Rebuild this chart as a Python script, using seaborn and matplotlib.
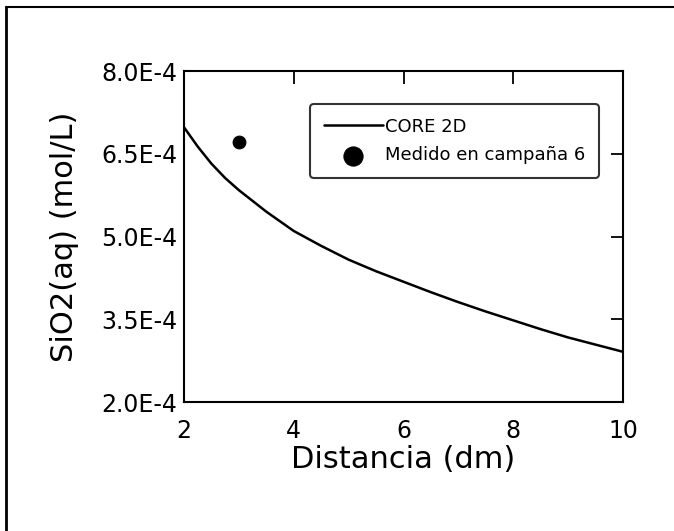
import numpy as np
import pandas as pd
import matplotlib
matplotlib.use("Agg")
import matplotlib.pyplot as plt
import seaborn as sns

# CORE 2D model curve
distance = [2.0, 2.25, 2.5, 2.75, 3.0, 3.5, 4.0, 4.5, 5.0, 5.5, 6.0,
            6.5, 7.0, 7.5, 8.0, 8.5, 9.0, 9.5, 10.0]
sio2_model = [6.98e-4, 6.63e-4, 6.32e-4, 6.06e-4, 5.84e-4, 5.45e-4,
              5.10e-4, 4.83e-4, 4.58e-4, 4.37e-4, 4.18e-4, 3.99e-4,
              3.81e-4, 3.64e-4, 3.48e-4, 3.32e-4, 3.17e-4, 3.04e-4,
              2.91e-4]

# field measurement
meas_distance = [3.0]
meas_sio2 = [6.72e-4]

y_ticks = [2.0e-4, 3.5e-4, 5.0e-4, 6.5e-4, 8.0e-4]
y_tick_labels = ["2.0E-4", "3.5E-4", "5.0E-4", "6.5E-4", "8.0E-4"]
x_ticks = [2, 4, 6, 8, 10]

sns.set_theme(style="white")
plt.rcParams["font.family"] = ["DejaVu Sans"]
plt.rcParams["text.color"] = "black"
plt.rcParams["axes.labelcolor"] = "black"

fig = plt.figure(figsize=(6.74, 5.31), dpi=100)
ax = fig.add_axes([184 / 674, 1 - 402 / 531, 439 / 674, 331 / 531])

model_df = pd.DataFrame({"d": distance, "s": sio2_model})
meas_df = pd.DataFrame({"d": meas_distance, "s": meas_sio2})

sns.lineplot(data=model_df, x="d", y="s", ax=ax, color="black", lw=1.8,
             label="CORE 2D")
sns.scatterplot(data=meas_df, x="d", y="s", ax=ax, color="black", s=85,
                edgecolor="black", label="Medido en campaña 6", zorder=3)

ax.set_xlim(2, 10)
ax.set_ylim(2.0e-4, 8.0e-4)
ax.set_xticks(x_ticks)
ax.set_yticks(y_ticks)
ax.set_yticklabels(y_tick_labels)
ax.tick_params(direction="in", length=9, width=1.3, top=True, right=True,
               labelsize=17, colors="black", pad=5)
ax.tick_params(axis="x", labelsize=17, pad=12)
for sp in ax.spines.values():
    sp.set_color("black")
    sp.set_linewidth(1.5)

ax.set_xlabel("Distancia (dm)", fontsize=22, labelpad=2, color="black")
ax.set_ylabel("SiO2(aq) (mol/L)", fontsize=22, labelpad=16, color="black")

leg = ax.legend(loc="upper right", bbox_to_anchor=(0.945, 0.90), fontsize=13,
                frameon=True, fancybox=True, edgecolor="black",
                handlelength=3.3, handletextpad=0.1, borderpad=0.75,
                labelspacing=0.6, markerscale=1.5, borderaxespad=0)
leg.get_frame().set_linewidth(1.5)
for t in leg.get_texts():
    t.set_color("black")

# partial outer frame (left and top edges)
fig.add_artist(plt.Line2D([6 / 674, 6 / 674], [0, 1 - 7 / 531],
                          color="black", lw=2, transform=fig.transFigure))
fig.add_artist(plt.Line2D([6 / 674, 1], [1 - 7 / 531, 1 - 7 / 531],
                          color="black", lw=1.5, transform=fig.transFigure))

fig.savefig("out.png", dpi=100, facecolor="white")
